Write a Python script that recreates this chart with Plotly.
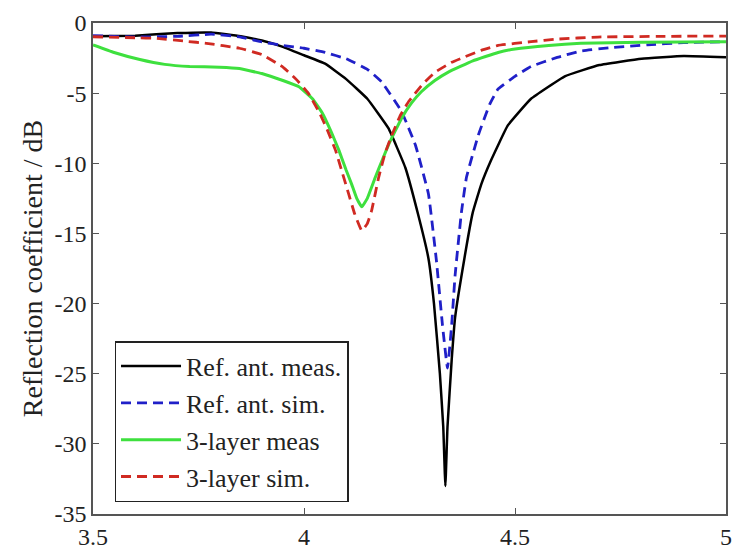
import plotly.graph_objects as go

# Ref. ant. meas. (black solid)
ref_meas_f = [3.50, 3.60, 3.70, 3.78, 3.85, 3.90, 3.95, 4.00, 4.05, 4.10, 4.15, 4.20, 4.24, 4.27,
              4.295, 4.308, 4.322, 4.330, 4.335, 4.340, 4.350, 4.358, 4.38, 4.40, 4.42, 4.443,
              4.483, 4.538, 4.618, 4.70, 4.80, 4.90, 5.00]
ref_meas_db = [-0.95, -0.9, -0.72, -0.68, -0.95, -1.25, -1.7, -2.3, -2.9, -4.0, -5.4, -7.5, -10.3, -13.6,
               -16.8, -20.0, -25.0, -28.8, -33.0, -28.8, -24.0, -21.0, -16.8, -13.5, -11.5, -9.8,
               -7.3, -5.4, -3.8, -3.0, -2.55, -2.35, -2.45]

# Ref. ant. sim. (blue dashed)
ref_sim_f = [3.50, 3.60, 3.70, 3.78, 3.85, 3.90, 3.95, 4.00, 4.05, 4.10, 4.15, 4.184, 4.231, 4.264,
             4.295, 4.314, 4.328, 4.340, 4.350, 4.358, 4.373, 4.385, 4.413, 4.440, 4.460, 4.50,
             4.538, 4.60, 4.656, 4.73, 4.814, 4.90, 5.00]
ref_sim_db = [-0.9, -1.0, -0.95, -0.8, -1.0, -1.35, -1.6, -1.8, -2.1, -2.55, -3.3, -4.2, -6.3, -8.7,
              -12.2, -17.0, -21.5, -24.6, -21.5, -18.0, -13.5, -11.0, -8.0, -5.8, -4.7, -3.8,
              -3.1, -2.45, -2.0, -1.75, -1.56, -1.4, -1.33]

# 3-layer meas (green solid)
lay_meas_f = [3.50, 3.55, 3.611, 3.67, 3.729, 3.80, 3.847, 3.90, 3.95, 3.988, 4.02, 4.043, 4.065,
              4.083, 4.10, 4.113, 4.125, 4.137, 4.150, 4.169, 4.185, 4.200, 4.231, 4.255, 4.278,
              4.31, 4.342, 4.40, 4.460, 4.50, 4.58, 4.656, 4.80, 5.00]
lay_meas_db = [-1.56, -2.1, -2.6, -2.95, -3.1, -3.15, -3.25, -3.6, -4.1, -4.55, -5.4, -6.4, -7.8,
               -9.1, -10.5, -11.5, -12.5, -13.1, -12.5, -11.0, -9.8, -8.7, -6.8, -5.7, -4.9,
               -4.1, -3.5, -2.7, -2.1, -1.85, -1.6, -1.45, -1.38, -1.33]

# 3-layer sim. (red dashed)
lay_sim_f = [3.50, 3.60, 3.651, 3.72, 3.769, 3.847, 3.90, 3.948, 3.981, 4.01, 4.035, 4.055, 4.075,
             4.09, 4.106, 4.12, 4.137, 4.150, 4.160, 4.177, 4.192, 4.208, 4.228, 4.248, 4.28,
             4.311, 4.35, 4.382, 4.42, 4.460, 4.538, 4.60, 4.696, 4.85, 5.00]
lay_sim_db = [-0.98, -1.05, -1.1, -1.3, -1.45, -1.8, -2.25, -3.1, -4.0, -5.0, -6.3, -7.6, -9.1,
              -10.6, -12.2, -13.6, -14.8, -14.3, -13.4, -11.0, -9.3, -8.0, -6.6, -5.6, -4.4,
              -3.5, -2.8, -2.4, -1.95, -1.6, -1.33, -1.15, -1.0, -0.95, -0.93]

x_ticks = [3.5, 4, 4.5, 5]
x_tick_text = ["3.5", "4", "4.5", "5"]
y_ticks = [0, -5, -10, -15, -20, -25, -30, -35]
y_tick_text = ["0", "-5", "-10", "-15", "-20", "-25", "-30", "-35"]

FONT = "Liberation Serif"

fig = go.Figure()
fig.add_trace(go.Scatter(x=ref_meas_f, y=ref_meas_db, mode="lines", name="Ref. ant. meas.",
                         line=dict(color="#000000", width=2.5, shape="spline", smoothing=0.3)))
fig.add_trace(go.Scatter(x=ref_sim_f, y=ref_sim_db, mode="lines", name="Ref. ant. sim.",
                         line=dict(color="#2020c8", width=2.8, dash="10px,6px", shape="spline", smoothing=0.3)))
fig.add_trace(go.Scatter(x=lay_meas_f, y=lay_meas_db, mode="lines", name="3-layer meas",
                         line=dict(color="#3ee03e", width=3, shape="spline", smoothing=0.3)))
fig.add_trace(go.Scatter(x=lay_sim_f, y=lay_sim_db, mode="lines", name="3-layer sim.",
                         line=dict(color="#d02a22", width=2.8, dash="10px,6px", shape="spline", smoothing=0.3)))

fig.update_layout(
    width=736, height=554,
    margin=dict(l=93, r=4, t=23, b=32),
    paper_bgcolor="white", plot_bgcolor="white",
    font=dict(family=FONT, size=24, color="#222222"),
    showlegend=True,
    legend=dict(x=0.034, y=0.024, xanchor="left", yanchor="bottom",
                bgcolor="white", bordercolor="#222222", borderwidth=1.5,
                font=dict(family=FONT, size=26, color="#222222"),
                tracegroupgap=0, itemwidth=60),
)
fig.update_xaxes(range=[3.5, 5], tickvals=x_ticks, ticktext=x_tick_text,
                 showgrid=False, zeroline=False, showline=True, linecolor="#555555", linewidth=1.5,
                 mirror="ticks", ticks="inside", ticklen=6, tickcolor="#555555",
                 tickfont=dict(family=FONT, size=24))
fig.update_yaxes(range=[-35, 0], tickvals=y_ticks, ticktext=y_tick_text,
                 showgrid=False, zeroline=False, showline=True, linecolor="#555555", linewidth=1.5,
                 mirror="ticks", ticks="inside", ticklen=6, tickcolor="#555555",
                 tickfont=dict(family=FONT, size=24),
                 title=dict(text="Reflection coefficient / dB", font=dict(family=FONT, size=28), standoff=4))

fig.write_html("out.html")
